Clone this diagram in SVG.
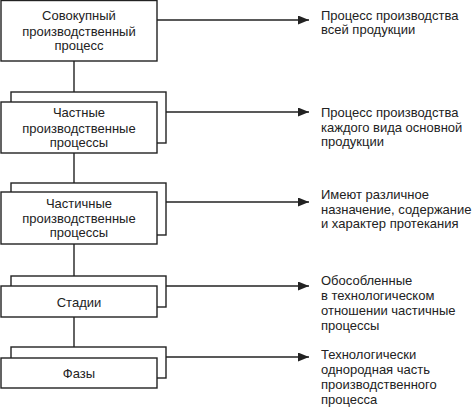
<svg xmlns="http://www.w3.org/2000/svg" width="474" height="409" viewBox="0 0 474 409">
<defs>
<style>
.bx{fill:#fff;stroke:#222;stroke-width:1.4}
.ln{fill:none;stroke:#222;stroke-width:1.4}
text{font-family:"Liberation Sans",Arial,sans-serif;font-size:13px;fill:#222}
.c{text-anchor:middle}
</style>
<marker id="ah" markerWidth="12" markerHeight="10" refX="11" refY="4.5" orient="auto" markerUnits="userSpaceOnUse">
<path d="M0,0 L11,4.5 L0,9 Z" fill="#222"/>
</marker>
</defs>
<rect width="474" height="409" fill="#fff"/>
<g id="connectors">
<line class="ln" x1="74" y1="61" x2="74" y2="92"/>
<line class="ln" x1="74" y1="153" x2="74" y2="183"/>
<line class="ln" x1="74" y1="244" x2="74" y2="276"/>
<line class="ln" x1="74" y1="317" x2="74" y2="347"/>
<line class="ln" x1="157" y1="20" x2="309" y2="20" marker-end="url(#ah)"/>
<line class="ln" x1="166" y1="112" x2="309" y2="112" marker-end="url(#ah)"/>
<line class="ln" x1="166" y1="202" x2="309" y2="202" marker-end="url(#ah)"/>
<line class="ln" x1="166" y1="286" x2="309" y2="286" marker-end="url(#ah)"/>
<line class="ln" x1="166" y1="357" x2="309" y2="357" marker-end="url(#ah)"/>
</g>
<g id="n1">
<rect class="bx" x="1" y="0.5" width="156" height="60.5"/>
<text class="c" x="79" y="20">Совокупный</text>
<text class="c" x="79" y="36">производственный</text>
<text class="c" x="79" y="50">процесс</text>
</g>
<g id="n2">
<rect class="bx" x="11" y="92" width="155" height="51"/>
<rect class="bx" x="1" y="102" width="156" height="51"/>
<text class="c" x="79" y="117">Частные</text>
<text class="c" x="79" y="133">производственные</text>
<text class="c" x="79" y="147">процессы</text>
</g>
<g id="n3">
<rect class="bx" x="11" y="183" width="155" height="52"/>
<rect class="bx" x="1" y="192" width="156" height="52"/>
<text class="c" x="79" y="208">Частичные</text>
<text class="c" x="79" y="223">производственные</text>
<text class="c" x="79" y="237">процессы</text>
</g>
<g id="n4">
<rect class="bx" x="11" y="276" width="155" height="31"/>
<rect class="bx" x="1" y="286" width="156" height="31"/>
<text class="c" x="79" y="307">Стадии</text>
</g>
<g id="n5">
<rect class="bx" x="11" y="347" width="155" height="31"/>
<rect class="bx" x="1" y="358" width="156" height="30"/>
<text class="c" x="79" y="378">Фазы</text>
</g>
<g id="d1">
<text x="321" y="20">Процесс производства</text>
<text x="321" y="34">всей продукции</text>
</g>
<g id="d2">
<text x="321" y="117">Процесс производства</text>
<text x="321" y="132">каждого вида основной</text>
<text x="321" y="146">продукции</text>
</g>
<g id="d3">
<text x="321" y="199">Имеют различное</text>
<text x="321" y="214">назначение, содержание</text>
<text x="321" y="228">и характер протекания</text>
</g>
<g id="d4">
<text x="321" y="285">Обособленные</text>
<text x="321" y="300">в технологическом</text>
<text x="321" y="315">отношении частичные</text>
<text x="321" y="330">процессы</text>
</g>
<g id="d5">
<text x="321" y="359">Технологически</text>
<text x="321" y="374">однородная часть</text>
<text x="321" y="389">производственного</text>
<text x="321" y="404">процесса</text>
</g>
</svg>
